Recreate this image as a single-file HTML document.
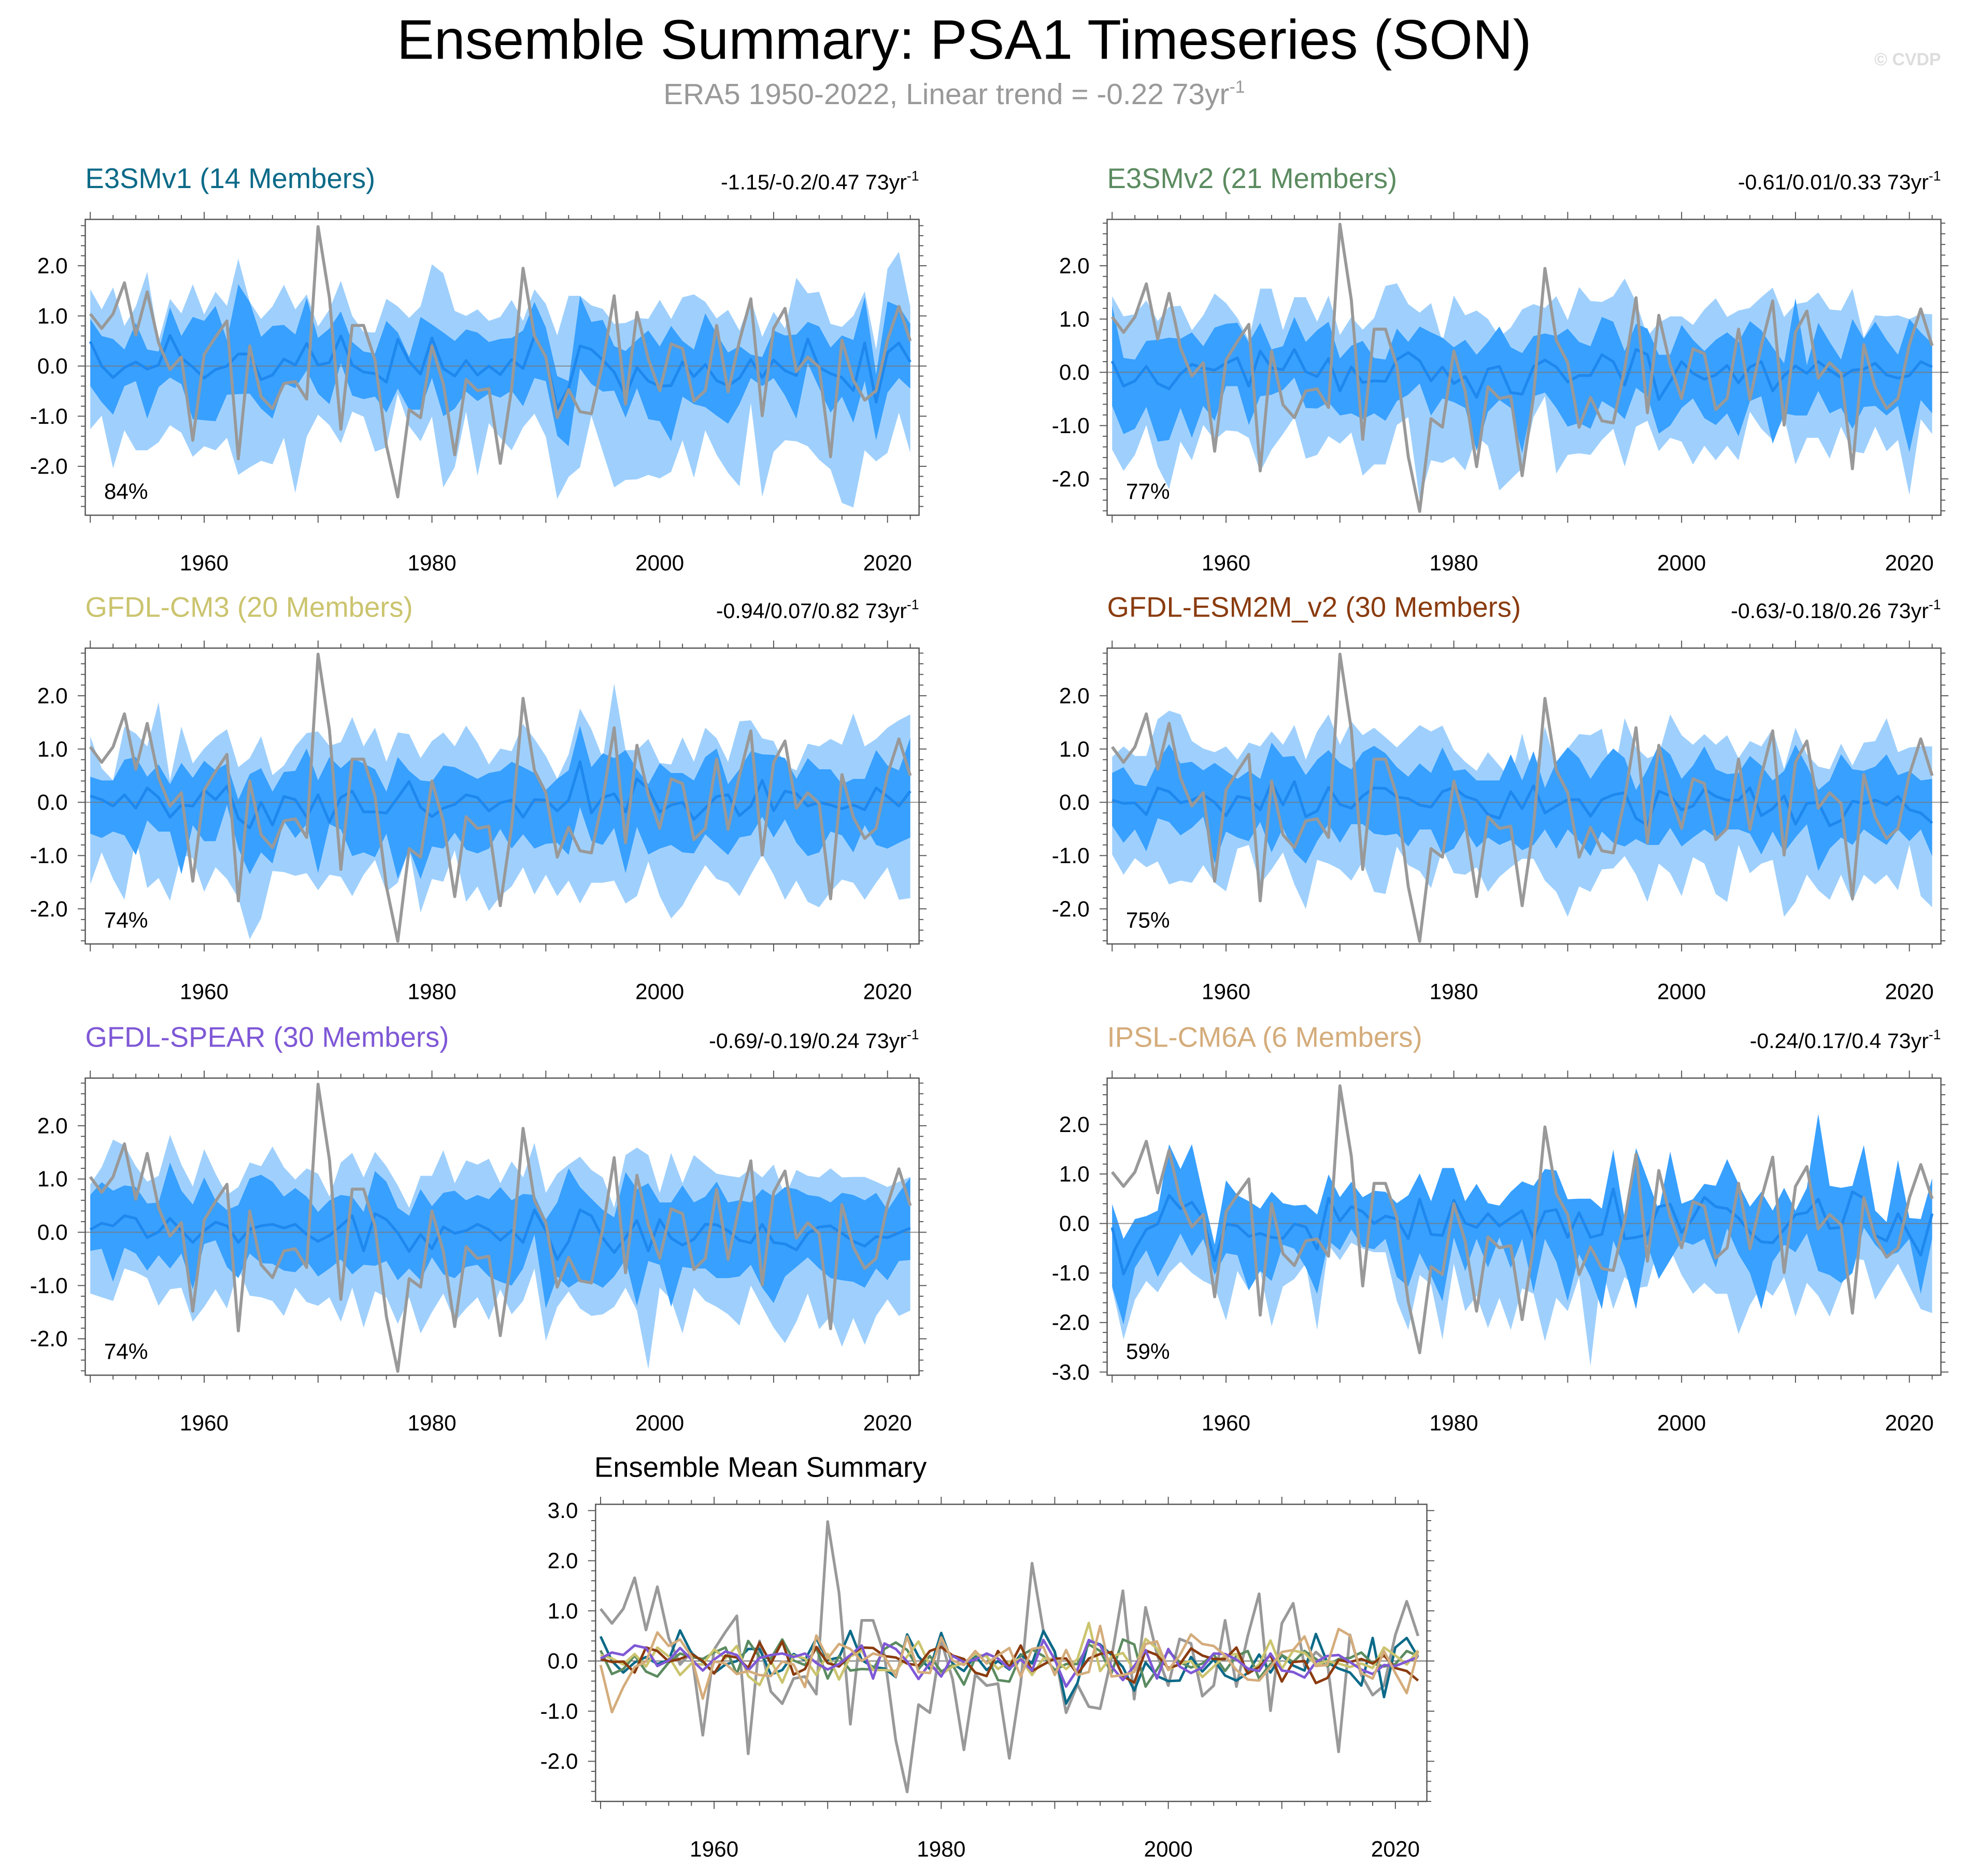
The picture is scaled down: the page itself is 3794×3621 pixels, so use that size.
<!DOCTYPE html>
<html><head><meta charset="utf-8"><title>Ensemble Summary: PSA1 Timeseries (SON)</title>
<style>html,body{margin:0;padding:0;background:#fff}svg{display:block}text{font-family:"Liberation Sans",sans-serif}</style>
</head><body>
<svg id="chart" xmlns="http://www.w3.org/2000/svg" width="3794" height="3621" viewBox="0 0 1568 1496.5">
<rect x="0" y="0" width="1568" height="1496.5" fill="#fff"/>
<text x="769" y="47" font-size="44.5" text-anchor="middle" fill="#000">Ensemble Summary: PSA1 Timeseries (SON)</text>
<text x="761" y="83" font-size="23.5" text-anchor="middle" fill="#999">ERA5 1950-2022, Linear trend = -0.22 73yr<tspan dy="-9" font-size="14">-1</tspan></text>
<text x="1548" y="52" font-size="14" font-weight="bold" text-anchor="end" fill="#ddd">© CVDP</text>
<g id="panels"></g>
</svg>
<script>
const years = Array.from({length:73},(_, i)=>1950+i);
const era5 = [1.04,0.75,1.04,1.66,0.62,1.48,0.46,-0.07,0.18,-1.48,0.23,0.58,0.90,-1.85,0.40,-0.61,-0.85,-0.35,-0.31,-0.66,2.78,1.36,-1.26,0.81,0.81,0.12,-1.58,-2.61,-0.87,-1.03,0.40,-0.36,-1.77,-0.27,-0.49,-0.45,-1.94,-0.45,1.95,0.60,0.18,-1.03,-0.47,-0.91,-0.95,0.06,1.40,-0.76,1.07,0.14,-0.49,0.44,0.35,-0.70,-0.49,0.81,-0.51,0.50,1.34,-0.99,0.75,1.15,-0.11,0.18,-0.02,-1.81,0.52,-0.28,-0.68,-0.49,0.52,1.19,0.50];

const p1Mean = [0.49,0,-0.23,-0.03,0.08,-0.06,0.02,0.61,0.16,-0.02,-0.24,-0.07,0,0.24,0.24,-0.27,-0.18,0.14,0.02,0.45,0.02,0.07,0.6,0.02,-0.12,-0.15,-0.32,0.53,0.09,-0.16,0.56,-0.05,-0.2,0.11,-0.18,0,-0.17,0.13,-0.05,0.6,0.19,-0.85,-0.44,0.4,0.33,0.12,-0.12,-0.59,-0.03,-0.3,-0.4,-0.39,0.08,-0.21,0.03,-0.29,-0.39,-0.24,0.13,-0.23,0.12,-0.09,-0.19,0.54,-0.03,-0.15,-0.23,-0.49,0.46,-0.72,0.27,0.46,0.08];
const p1LightUp = [1.53,1.13,1.57,0.8,1.19,1.88,0.5,1.34,1.05,1.63,1.03,1.48,1.2,2.14,1.28,0.94,1.19,1.62,1.13,1.43,0.79,1.13,1.7,1.0,0.68,0.67,1.34,1.19,0.96,1.19,2.03,1.85,1.1,1.0,1.13,0.9,0.98,1.32,0.9,1.53,1.24,0.61,1.4,1.4,1.21,1.14,0.84,0.86,0.96,0.94,1.32,0.94,1.37,1.43,1.28,0.95,1.12,0.71,1.34,0.58,1.08,0.75,1.76,1.45,1.48,0.84,0.78,1.0,1.49,0.33,1.94,2.28,1.19];
const p1DarkUp = [0.94,0.6,0.54,0.33,0.86,0.33,0.29,1.17,0.6,0.98,0.9,1.2,0.52,1.63,1.28,0.58,0.8,0.82,0.63,1.36,0.56,0.75,1.09,0.48,0.29,0.25,0.9,0.67,0.18,0.98,0.83,0.67,0.5,0.73,0.67,0.48,0.54,0.56,0.71,1.28,0.77,-0.2,-0.3,1.4,0.88,0.92,0.4,0.3,0.52,0.71,0.39,0.8,0.5,0.33,1.05,0.64,0.27,0.4,0.23,0.18,0.71,0.61,0.63,0.88,0.79,0.37,0.61,0.52,1.38,-0.17,1.29,1.19,0.84];
const p1DarkLo = [-0.4,-0.72,-0.97,-0.4,-0.3,-1.05,-0.42,-0.23,-0.36,-1.06,-1.08,-1.1,-0.57,-0.56,-0.55,-0.85,-1.05,-0.34,-0.44,-0.09,-0.55,-0.76,0.06,-0.59,-0.66,-0.61,-0.93,-0.45,-0.87,-0.87,-0.24,-1.0,-0.85,-0.51,-0.7,-0.55,-0.63,-0.49,-0.8,-0.24,-0.3,-1.39,-1.6,-0.05,-0.36,-0.51,-0.49,-1.03,-0.44,-1.06,-1.1,-1.5,-0.61,-0.76,-0.82,-0.99,-1.15,-0.76,-0.24,-0.4,-0.24,-0.59,-1.05,0.06,-0.44,-0.93,-0.61,-1.13,-0.3,-1.48,-0.53,-0.24,-0.45];
const p1LightLo = [-1.26,-0.99,-2.04,-1.28,-1.68,-1.68,-1.52,-1.18,-1.33,-1.81,-1.6,-1.68,-1.43,-2.17,-2.02,-1.89,-1.96,-1.43,-2.53,-1.41,-0.97,-1.18,-1.54,-0.91,-1.01,-1.71,-1.62,-0.55,-1.2,-1.5,-1.01,-2.42,-2.02,-0.91,-2.19,-1.14,-1.43,-1.68,-1.22,-0.95,-1.41,-2.65,-2.21,-2.02,-0.99,-1.71,-2.42,-2.27,-2.26,-2.17,-2.24,-2.11,-1.48,-2.23,-1.28,-1.77,-2.13,-2.4,-0.74,-2.61,-1.71,-1.48,-1.5,-1.6,-1.87,-2.06,-2.73,-2.82,-1.68,-1.9,-1.73,-0.93,-1.73];

const p2Mean = [0.21,-0.26,-0.16,0.11,-0.21,-0.31,-0.03,0.15,0.08,0.04,0.17,0.27,-0.26,0.4,0.08,0.05,0.43,0.01,-0.08,0.26,-0.35,0.1,-0.19,-0.16,-0.17,0.24,0.37,0.22,-0.16,0.1,-0.21,-0.08,-0.47,0.06,0.11,-0.38,-0.41,0.11,0.23,0.1,-0.18,-0.06,-0.06,0.33,0.2,-0.24,0.43,0.33,-0.51,-0.17,0.2,-0.02,-0.13,-0.05,0.13,-0.2,0.1,0.2,-0.35,-0.06,0.12,-0.02,0.2,0.04,-0.1,0.04,0.06,0.17,-0.05,-0.11,-0.06,0.2,0.1];
const p2LightUp = [1.43,1.05,1.09,1.35,0.96,1.23,1.25,0.79,1.07,1.48,1.3,1.02,0.61,1.57,1.57,0.79,1.41,1.41,0.95,1.44,0.7,1.04,0.8,1.02,1.62,1.67,1.28,1.12,1.3,0.57,1.44,1.07,1.16,1.0,0.66,0.84,1.18,1.28,1.21,1.43,0.98,1.6,1.34,1.32,1.43,1.76,1.32,0.68,0.93,1.05,1.05,0.89,1.18,1.39,1.04,1.16,1.21,1.41,1.59,1.04,1.28,1.32,1.5,1.18,1.16,1.57,0.65,1.07,1.05,1.07,1.0,1.1,1.09];
const p2DarkUp = [1.25,0.27,0.24,0.59,0.61,0.65,0.63,0.75,0.49,0.84,0.91,0.93,0.56,0.93,0.43,0.49,1.04,0.57,0.79,0.95,0.26,0.5,0.59,0.27,0.24,0.82,0.57,0.86,0.75,0.65,0.47,0.61,0.33,0.57,0.86,0.47,0.36,0.68,0.73,0.68,0.82,0.57,0.49,1.04,0.95,0.4,0.91,0.82,0.33,0.33,0.89,0.61,0.4,0.61,0.75,0.57,0.96,0.79,0.47,0.17,1.39,0.13,0.93,0.57,0.24,1.0,0.63,0.95,0.61,0.33,1.0,0.75,0.54];
const p2DarkLo = [-0.63,-1.16,-1.06,-0.65,-1.3,-1.27,-0.67,-1.23,-0.63,-0.91,-0.26,-0.26,-0.99,-0.45,-0.42,-0.33,-0.1,-0.67,-0.68,-0.56,-0.81,-0.77,-0.88,-0.77,-0.91,-0.54,-0.42,-0.21,-0.81,-0.49,-0.56,-0.67,-1.48,-0.74,-0.52,-0.67,-1.52,-0.45,-0.38,-0.67,-1.02,-0.95,-1.06,-0.54,-0.67,-0.88,-0.29,-0.45,-1.15,-1.0,-0.67,-0.49,-0.86,-0.99,-0.77,-1.2,-0.54,-0.45,-1.34,-0.77,-0.81,-0.81,-0.35,-0.77,-0.67,-1.06,-0.65,-0.63,-0.81,-0.63,-1.5,-0.52,-0.77];
const p2LightLo = [-1.45,-1.85,-1.55,-0.99,-1.77,-2.19,-1.3,-1.65,-0.99,-1.27,-1.09,-1.11,-1.23,-1.87,-1.45,-1.16,-0.84,-1.62,-1.55,-1.2,-1.34,-1.13,-1.94,-1.73,-1.73,-0.99,-0.84,-2.4,-1.65,-1.7,-1.59,-1.84,-1.2,-1.38,-2.22,-2.01,-1.8,-0.84,-0.45,-1.9,-1.55,-1.52,-1.55,-1.27,-1.06,-1.77,-1.02,-0.91,-1.48,-1.23,-1.3,-1.73,-1.38,-1.65,-1.38,-1.65,-0.74,-1.06,-1.27,-0.84,-1.73,-1.23,-1.23,-1.62,-1.02,-1.48,-1.52,-1.02,-1.48,-1.27,-2.3,-0.88,-1.16];

const p3Mean = [0.12,0.05,-0.07,0.14,-0.11,0.27,0.09,-0.28,-0.05,-0.07,0.23,0.05,0.3,-0.3,-0.48,0,-0.43,0.11,0.05,-0.28,0.14,-0.37,0.09,0.21,-0.18,-0.18,-0.2,0.09,0.39,-0.09,-0.27,-0.11,-0.04,0.14,0.09,-0.16,-0.01,0.04,-0.28,0.05,0.04,-0.16,0.04,0.76,-0.2,0.09,0.16,-0.18,0.44,0.25,-0.18,-0.05,0,-0.32,-0.11,0.11,0.14,-0.25,-0.07,0.41,-0.16,0.21,0.16,-0.07,0,-0.05,-0.12,-0.05,-0.14,0.27,0.11,-0.07,0.21];
const p3LightUp = [1.24,0.64,0.41,1.42,1.29,1.05,1.88,0.41,1.42,0.73,1.01,1.22,1.37,0.66,0.83,1.24,0.51,0.69,1.05,1.3,1.33,1.06,1.13,1.6,1.05,1.4,0.76,1.31,1.28,0.83,1.15,1.31,1.05,1.44,1.12,0.71,1.01,0.96,1.47,1.19,0.87,0.44,0.9,1.76,1.37,0.83,2.23,0.98,0.98,1.19,0.74,0.71,1.22,0.76,1.4,1.2,0.76,1.52,1.54,1.2,1.15,0.69,0.6,1.1,1.05,1.19,1.08,1.67,1.05,1.19,1.4,1.54,1.65];
const p3DarkUp = [0.48,0.41,0.41,0.8,0.85,0.48,0.71,0.34,0.74,0.46,0.78,0.6,0.73,0.05,0.53,0.64,0.2,0.57,0.59,1.01,0.41,0.85,0.64,0.83,0.73,0.62,0.2,0.85,0.59,0.41,0.39,0.69,0.66,0.55,0.44,0.55,0.59,0.76,0.66,0.55,0.23,0.44,0.6,1.44,0.66,0.92,0.83,0.98,0.62,0.34,0.73,0.55,0.55,0.41,0.85,1.01,0.34,0.62,0.96,0.9,0.89,0.83,0.44,0.83,0.62,0.62,0.34,0.44,0.44,0.98,0.69,0.6,1.21];
const p3DarkLo = [-0.59,-0.67,-0.55,-0.62,-0.99,-0.34,-0.55,-0.55,-1.35,-0.43,-0.73,-0.73,-0.05,-0.87,-1.35,-0.94,-1.15,-0.35,-0.67,-0.41,-1.33,-0.41,-0.51,-1.01,-0.94,-1.03,-0.59,-1.44,-0.87,-1.44,-0.83,-0.87,-0.57,-0.89,-0.96,-0.87,-0.5,-0.87,-0.6,-0.87,-0.78,-0.76,-0.99,-0.09,-0.73,-0.8,-0.48,-1.33,-0.46,-0.98,-0.87,-0.8,-0.94,-0.96,-0.6,-0.8,-0.99,-0.66,-0.62,-0.27,-0.66,-0.32,-0.76,-1.01,-0.94,-0.55,-0.62,-0.94,-0.43,-0.8,-0.87,-0.76,-0.66];
const p3LightLo = [-1.54,-0.94,-1.44,-1.83,-0.66,-1.61,-1.42,-1.85,-0.98,-1.05,-1.68,-1.22,-1.44,-1.8,-2.57,-2.18,-1.29,-1.31,-1.38,-1.33,-1.65,-1.36,-1.4,-1.76,-1.36,-1.08,-1.68,-1.51,-0.87,-2.07,-1.44,-1.49,-0.9,-1.87,-1.58,-2.04,-1.76,-1.58,-1.22,-1.73,-1.36,-1.76,-1.47,-1.9,-1.51,-1.51,-1.47,-1.9,-1.76,-1.11,-1.76,-2.18,-1.94,-1.54,-1.18,-1.44,-1.51,-1.76,-1.36,-0.98,-1.36,-1.83,-1.47,-1.87,-1.97,-1.68,-1.45,-1.51,-1.83,-1.51,-1.22,-1.83,-1.8];

const p4Mean = [0.04,-0.02,-0.01,-0.23,0.27,0.2,-0.01,0.04,0.14,0,-0.25,0.11,0.07,-0.14,0.37,-0.05,0.39,-0.27,-0.16,0.28,-0.04,-0.11,0.12,0.27,0.26,0.1,0.07,-0.05,-0.09,0.2,0.28,0.11,0.04,-0.23,-0.3,0.2,-0.12,0.31,-0.2,-0.07,0.05,0.05,-0.26,0.05,0.14,0.18,-0.3,-0.43,0.21,0.12,-0.14,-0.07,0.25,0.11,0.04,0.04,0.27,-0.25,-0.12,0.12,-0.41,-0.02,0,-0.44,-0.34,0.02,-0.02,0.04,-0.05,0.11,-0.14,-0.2,-0.39];
const p4LightUp = [0.85,1.05,0.87,0.87,1.56,1.72,1.65,1.15,1.01,0.94,1.05,0.8,1.12,1.05,1.33,1.08,1.45,0.8,1.33,1.65,1.08,1.52,1.26,1.4,1.22,1.03,1.24,1.45,1.33,1.44,0.98,0.76,0.59,0.94,0.69,0.43,1.29,0.48,1.42,0.66,1.01,1.28,1.26,1.38,0.44,1.58,1.03,0.83,0.9,1.65,1.26,1.08,1.28,1.08,1.26,0.83,1.15,1.05,1.38,0.62,1.4,0.9,0.67,0.62,1.1,0.69,1.12,1.15,1.58,0.94,1.03,1.05,1.05];
const p4DarkUp = [0.55,0.66,0.34,0.3,0.76,1.09,0.73,0.76,0.6,0.74,0.59,0.44,0.59,0.44,1.12,0.85,0.87,0.51,0.8,0.98,0.74,0.62,0.94,1.06,0.92,0.66,0.48,0.73,0.55,1.03,0.59,0.62,0.41,0.41,0.41,0.9,0.41,0.96,0.27,0.76,1.03,0.83,0.44,0.76,1.01,0.83,0.23,0.62,1.08,0.9,0.44,0.69,1.05,0.62,0.53,0.55,0.87,0.69,0.41,0.59,1.08,0.69,0.23,0.41,0.9,0.62,0.59,0.67,0.9,0.51,0.59,0.41,0.44];
const p4DarkLo = [-0.44,-0.76,-0.51,-0.92,-0.3,-0.37,-0.62,-0.48,-0.27,-1.15,-0.55,-0.66,-0.73,-0.37,-0.94,-0.48,-0.94,-1.15,-0.73,-0.41,-0.76,-0.41,-0.41,-0.59,-0.62,-0.59,-0.83,-0.51,-0.51,-0.98,-0.87,-0.51,-0.85,-0.66,-0.8,-0.71,-0.9,-0.8,-0.51,-0.87,-0.51,-0.73,-1.01,-0.55,-0.76,-0.83,-0.69,-0.8,-0.8,-0.48,-0.83,-0.66,-0.51,-0.66,-0.51,-0.51,-0.59,-0.98,-0.55,-0.94,-0.66,-0.41,-1.29,-0.87,-0.66,-0.8,-0.51,-0.66,-0.8,-0.51,-0.73,-0.51,-1.01];
const p4LightLo = [-0.98,-1.36,-1.05,-1.22,-1.11,-1.54,-1.47,-1.51,-1.18,-1.51,-1.67,-0.87,-0.8,-1.54,-1.26,-0.94,-1.54,-2.0,-1.08,-1.15,-1.26,-1.47,-1.11,-1.68,-1.72,-0.83,-1.18,-1.29,-1.61,-0.87,-1.33,-1.36,-1.22,-1.68,-1.4,-1.22,-1.06,-1.06,-1.47,-1.68,-2.15,-1.58,-1.68,-1.26,-1.24,-1.01,-1.36,-1.87,-1.15,-1.33,-1.76,-1.03,-1.15,-1.72,-1.87,-0.8,-1.33,-1.15,-1.08,-2.15,-1.87,-1.36,-1.65,-1.83,-1.36,-1.87,-1.36,-1.54,-1.36,-1.65,-0.8,-1.76,-1.97];

const p5Mean = [0.05,0.17,0.12,0.31,0.26,-0.1,0.01,0.26,0.03,-0.19,0.03,0.19,0.12,-0.19,0.06,0.12,0.15,0.08,0.15,-0.04,-0.17,-0.06,0.12,0.31,-0.35,0.35,0.24,-0.01,-0.36,-0.04,-0.31,0.1,-0.02,0.03,0.15,0.05,-0.15,0.03,-0.19,0.42,0.03,-0.51,-0.17,0.42,0.31,-0.11,-0.38,-0.1,0.22,-0.35,0.24,-0.11,-0.24,-0.13,0.15,0.14,0.03,-0.15,-0.2,0.15,-0.19,-0.22,-0.33,-0.02,0.1,0.12,-0.02,-0.17,-0.26,-0.08,-0.1,-0.01,0.08];
const p5LightUp = [0.9,1.22,1.74,1.63,1.24,0.95,1.06,1.83,1.27,0.86,1.56,1.1,0.7,0.85,1.31,1.24,1.61,1.22,0.99,1.2,1.1,0.67,1.31,1.49,1.03,1.51,1.24,0.88,0.46,1.06,1.06,1.54,0.92,1.35,1.27,1.38,0.92,1.33,1.03,1.68,0.74,1.1,1.27,1.42,1.17,1.03,0.46,1.45,1.59,1.45,0.74,1.49,0.92,1.45,1.27,1.1,1.06,1.03,1.2,1.03,1.27,0.67,1.17,1.06,1.03,1.2,1.03,1.04,1.04,0.95,0.85,0.95,1.04];
const p5DarkUp = [0.7,0.94,0.78,0.88,0.85,0.54,0.56,1.31,0.78,0.52,1.03,0.6,0.42,0.51,1.01,1.08,0.95,0.67,0.83,0.67,0.38,0.6,0.7,0.67,0.38,1.15,0.95,0.46,0.31,0.81,0.49,0.74,0.78,0.6,0.7,0.62,0.85,0.6,0.72,0.7,0.24,0.56,1.2,0.85,0.63,0.42,0.28,1.13,0.81,0.92,0.56,0.56,0.88,0.56,0.67,0.95,0.56,0.6,0.56,0.81,0.67,0.85,0.81,0.7,0.67,0.56,0.74,0.7,0.6,0.74,0.42,0.74,1.03];
const p5DarkLo = [-0.35,-0.31,-0.93,-0.29,-0.4,-0.72,-0.43,-0.68,-0.4,-1.07,-0.22,-0.15,-0.65,-0.86,-0.4,-0.58,-0.59,-0.72,-0.75,-0.54,-0.83,-0.68,-0.51,-0.79,-0.61,-0.63,-0.54,-0.9,-0.68,-0.9,-0.47,-0.79,-0.86,-0.65,-0.61,-0.83,-0.93,-1.0,-0.68,-0.04,-1.43,-0.83,-1.04,-0.9,-0.93,-1.04,-0.83,-0.51,-1.38,-0.54,-0.61,-1.4,-0.65,-0.68,-0.68,-0.86,-0.86,-0.83,-0.61,-1.04,-1.33,-0.83,-0.65,-0.47,-0.68,-0.86,-0.9,-0.93,-1.04,-0.68,-0.9,-0.54,-0.52];
const p5LightLo = [-1.15,-1.22,-1.29,-0.68,-0.75,-0.86,-1.38,-1.07,-1.04,-1.68,-1.4,-1.07,-1.43,-0.68,-1.19,-1.22,-1.29,-1.57,-1.04,-1.31,-1.38,-1.22,-1.68,-1.04,-1.79,-1.11,-1.22,-1.72,-1.22,-1.9,-1.5,-1.15,-1.68,-1.43,-1.22,-1.65,-1.07,-1.54,-1.29,-0.68,-2.04,-1.4,-1.11,-1.43,-1.57,-1.54,-1.4,-1.04,-1.47,-2.57,-1.04,-1.26,-1.9,-1.04,-1.29,-1.4,-1.54,-1.75,-1.0,-1.4,-1.79,-2.08,-1.68,-1.15,-1.82,-1.57,-2.15,-1.61,-2.11,-1.57,-1.26,-1.57,-1.47];

const p6Mean = [-0.08,-1.02,-0.52,-0.12,-0.01,0.57,0.3,0.43,0.09,-0.75,-0.01,-0.05,-0.26,-0.2,-0.28,-0.3,-0.01,-0.07,-0.52,0.51,0.05,0.34,0.24,0,0.15,0.09,-0.31,0.49,-0.22,-0.24,0.47,0.01,-0.08,0.2,-0.05,0.11,0.26,-0.31,0.24,0.28,-0.28,0.22,-0.28,-0.22,0.7,-0.31,-0.28,-0.22,0.34,0.39,-0.18,0.11,0.53,0.34,0.3,0.11,-0.18,-0.37,-0.39,-0.12,0.18,0.22,0.49,-0.1,-0.08,0.64,0.51,-0.24,-0.35,0.2,-0.24,-0.64,0.2];
const p6LightUp = [0.39,-0.31,0.09,0.15,0.26,1.6,1.1,1.6,0.57,-0.43,0.87,0.57,0.45,0.3,0.64,0.41,0.36,0.38,0.18,0.99,0.53,0.84,0.53,0.66,0.64,0.41,0.57,1.01,0.45,1.12,1.12,0.45,0.8,0.41,0.36,0.64,0.85,0.76,1.1,1.07,0.49,0.5,0.5,0.3,1.49,0.1,1.52,0.9,0.26,1.45,0.4,0.49,0.8,0.76,1.3,0.8,0.34,0.64,0.26,0.72,0.26,0.72,2.21,0.76,0.72,0.76,1.58,0.26,0.03,1.28,0.11,0.09,0.91];
const p6DarkUp = [0.39,-0.31,0.09,0.15,0.26,1.6,1.1,1.6,0.57,-0.43,0.87,0.57,0.45,0.3,0.64,0.41,0.36,0.38,0.18,0.99,0.53,0.84,0.53,0.66,0.64,0.41,0.57,1.01,0.45,1.12,1.12,0.45,0.8,0.41,0.36,0.64,0.85,0.76,1.1,1.07,0.49,0.5,0.5,0.3,1.49,0.1,1.52,0.9,0.26,1.45,0.4,0.49,0.8,0.76,1.3,0.8,0.34,0.64,0.26,0.72,0.26,0.72,2.21,0.76,0.72,0.76,1.58,0.26,0.03,1.28,0.11,0.09,0.91];
const p6DarkLo = [-1.27,-2.04,-0.89,-0.54,-1.08,-0.66,-0.2,-0.66,-0.31,-1.04,-0.6,-0.64,-1.35,-0.96,-1.16,-0.43,-0.51,-0.89,-1.42,-0.35,-0.54,-0.12,-0.47,-0.52,-0.31,-1.08,-1.27,-0.6,-1.05,-1.57,-0.28,-0.96,-0.31,-0.89,-0.28,-0.9,-0.31,-1.39,-0.31,-0.77,-1.57,-0.62,-1.08,-1.73,-0.35,-0.89,-1.73,-0.43,-1.12,-0.74,-0.35,-0.43,-0.31,-0.89,-0.1,-0.62,-1.0,-1.73,-0.77,-0.43,-0.58,-0.2,-0.96,-1.04,-1.2,-1.0,-0.08,-0.43,-0.66,-0.58,-0.31,-1.42,-0.31];
const p6LightLo = [-1.31,-2.34,-1.54,-1.16,-1.39,-1.0,-0.77,-1.0,-1.16,-1.27,-1.96,-0.96,-1.35,-0.96,-2.08,-1.27,-1.12,-0.81,-2.15,-0.43,-0.74,-0.39,-0.51,-0.58,-0.58,-1.57,-2.15,-1.04,-1.23,-2.34,-0.81,-1.77,-1.46,-2.11,-1.5,-2.15,-1.31,-1.42,-2.38,-1.5,-1.77,-1.08,-2.88,-0.89,-1.73,-1.08,-1.31,-1.27,-0.43,-0.51,-1.04,-1.42,-1.2,-1.42,-1.42,-2.23,-1.65,-1.27,-1.46,-1.08,-1.88,-1.2,-1.46,-1.88,-1.27,-0.7,-0.74,-1.54,-1.16,-0.81,-1.27,-1.73,-1.81];

const modelNames = ["E3SMv1 (14 Members)","E3SMv2 (21 Members)","GFDL-CM3 (20 Members)","GFDL-ESM2M_v2 (30 Members)","GFDL-SPEAR (30 Members)","IPSL-CM6A (6 Members)"];
const modelStats = ["-1.15/-0.2/0.47 73yr","-0.61/0.01/0.33 73yr","-0.94/0.07/0.82 73yr","-0.63/-0.18/0.26 73yr","-0.69/-0.19/0.24 73yr","-0.24/0.17/0.4 73yr"];
const modelPct = ["84%","77%","74%","75%","74%","59%"];
const xTickYears = [1960,1980,2000,2020];
const yTickVals = [2,1,0,-1,-2];
const yTickVals6 = [2,1,0,-1,-2,-3];
const yTickValsSummary = [3,2,1,0,-1,-2];

const NS = "http://www.w3.org/2000/svg";
const root = document.getElementById("panels");
const colors = ["#0b6a88","#5b8b60","#cbc46e","#8a3b0e","#7f58d6","#d4ac7b"];
function mk(tag, attrs, parent){const e=document.createElementNS(NS,tag);for(const k in attrs)e.setAttribute(k,attrs[k]);(parent||root).appendChild(e);return e;}

function makeAxes(g, L){
  const px = yr => L.x0 + 4 + (yr-1950)*(L.x1-L.x0-11)/72;
  const py = v => L.zero - v*L.unit;
  const vTop = (L.zero-L.y0)/L.unit, vBot = (L.zero-L.y1)/L.unit;
  const box = mk("rect",{x:L.x0,y:L.y0,width:L.x1-L.x0,height:L.y1-L.y0,fill:"#fff",stroke:"none"},g);
  
  
  return {px,py,vTop,vBot};
}
function drawFrame(g,L,ax,ticks){
  const fr = mk("rect",{x:L.x0,y:L.y0,width:L.x1-L.x0,height:L.y1-L.y0,fill:"none",stroke:"#555","stroke-width":1},g);
  
  
  for(let v=Math.ceil(ax.vBot*5)/5; v<=ax.vTop+1e-6; v+=0.2){
    const y=ax.py(v); const major=Math.abs(Math.round(v)-v)<1e-6;
    const len=major?6:3.5;
    mk("line",{x1:L.x0,x2:L.x0-len,y1:y,y2:y,stroke:"#555","stroke-width":0.8},g);
    mk("line",{x1:L.x1,x2:L.x1+len,y1:y,y2:y,stroke:"#555","stroke-width":0.8},g);
  }
  for(let yr=1950; yr<=2022; yr+=2){
    const x=ax.px(yr); const major=(yr%10===0); const len=major?6:3.5;
    mk("line",{x1:x,x2:x,y1:L.y1,y2:L.y1+len,stroke:"#555","stroke-width":0.8},g);
    mk("line",{x1:x,x2:x,y1:L.y0,y2:L.y0-len,stroke:"#555","stroke-width":0.8},g);
  }
  ticks.forEach(v=>{
    const t=mk("text",{x:L.x0-14,y:ax.py(v)+6,"font-size":17.5,"text-anchor":"end",fill:"#000"},g);
    t.textContent=v.toFixed(1);
    
    
  });
  xTickYears.forEach(yr=>{
    const t=mk("text",{x:ax.px(yr),y:L.y1+44,"font-size":17.5,"text-anchor":"middle",fill:"#000"},g);
    t.textContent=String(yr);
    
    
  });
}
function linePath(ax, arr){return arr.map((v,i)=>(i?"L":"M")+ax.px(years[i]).toFixed(2)+","+ax.py(v).toFixed(2)).join("");}
function bandPath(ax, up, lo){
  let d=up.map((v,i)=>(i?"L":"M")+ax.px(years[i]).toFixed(2)+","+ax.py(v).toFixed(2)).join("");
  for(let i=lo.length-1;i>=0;i--) d+="L"+ax.px(years[i]).toFixed(2)+","+ax.py(lo[i]).toFixed(2);
  return d+"Z";
}

const layouts = [
  {x0:68,x1:733,y0:175,y1:411,zero:292,unit:40},
  {x0:883,x1:1548,y0:175,y1:411,zero:297,unit:42.5},
  {x0:68,x1:733,y0:517,y1:753,zero:640,unit:42.5},
  {x0:883,x1:1548,y0:517,y1:753,zero:640,unit:42.5},
  {x0:68,x1:733,y0:860,y1:1097,zero:983,unit:42.5},
  {x0:883,x1:1548,y0:860,y1:1097,zero:976,unit:39.5}
];
const bands = [
  [p1Mean,p1LightUp,p1DarkUp,p1DarkLo,p1LightLo],
  [p2Mean,p2LightUp,p2DarkUp,p2DarkLo,p2LightLo],
  [p3Mean,p3LightUp,p3DarkUp,p3DarkLo,p3LightLo],
  [p4Mean,p4LightUp,p4DarkUp,p4DarkLo,p4LightLo],
  [p5Mean,p5LightUp,p5DarkUp,p5DarkLo,p5LightLo],
  [p6Mean,p6LightUp,p6DarkUp,p6DarkLo,p6LightLo]
];

layouts.forEach((L,k)=>{
  const g=mk("g",{});
  
  
  const ax=makeAxes(g,L);
  const [mean,lu,du,dl,ll]=bands[k];
  const light=mk("path",{d:bandPath(ax,lu,ll),fill:"#9fd0fd",stroke:"none"},g);
  
  
  const dark=mk("path",{d:bandPath(ax,du,dl),fill:"#38a0ff",stroke:"none"},g);
  
  
  const zl=mk("line",{x1:L.x0,x2:L.x1,y1:ax.py(0),y2:ax.py(0),stroke:"#777","stroke-width":0.8,"stroke-opacity":0.8},g);
  
  
  const ml=mk("path",{d:linePath(ax,mean),fill:"none",stroke:"#1e88ee","stroke-width":2.2,"stroke-linejoin":"round"},g);
  
  
  const ol=mk("path",{d:linePath(ax,era5),fill:"none",stroke:"#999","stroke-width":2.4,"stroke-linejoin":"round"},g);
  
  
  drawFrame(g,L,ax,k===5?yTickVals6:yTickVals);
  const t=mk("text",{x:L.x0,y:L.y0-25,"font-size":22.5,fill:colors[k]},g);
  t.textContent=modelNames[k];
  
  
  const s=mk("text",{x:L.x1,y:L.y0-24,"font-size":17,"text-anchor":"end",fill:"#000"},g);
  s.textContent=modelStats[k];
  const sup=mk("tspan",{dy:-7,"font-size":11},s);
  sup.textContent="-1";
  
  
  const p=mk("text",{x:L.x0+15,y:L.y1-13,"font-size":17.5,fill:"#000"},g);
  p.textContent=modelPct[k];
  
  
});

const LS={x0:475,x1:1138,y0:1200,y1:1437,zero:1325,unit:40};
const gs=mk("g",{});


const axs=makeAxes(gs,LS);
const zs=mk("line",{x1:LS.x0,x2:LS.x1,y1:axs.py(0),y2:axs.py(0),stroke:"#777","stroke-width":0.8},gs);


const eraS=mk("path",{d:linePath(axs,era5),fill:"none",stroke:"#999","stroke-width":2.2,"stroke-linejoin":"round"},gs);


bands.forEach((b,k)=>{
  const l=mk("path",{d:linePath(axs,b[0]),fill:"none",stroke:colors[k],"stroke-width":2,"stroke-linejoin":"round"},gs);
  
  
});
drawFrame(gs,LS,axs,yTickValsSummary);
const st=mk("text",{x:474,y:1178,"font-size":22.5,fill:"#000"},gs);
st.textContent="Ensemble Mean Summary";


</script>
</body></html>
